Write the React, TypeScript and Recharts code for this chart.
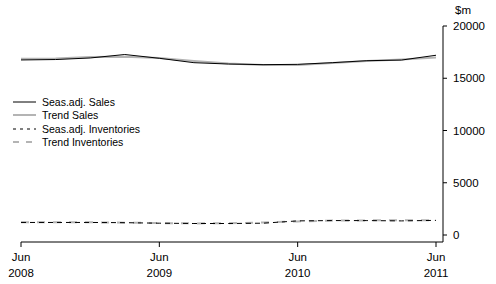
import { LineChart, Line, XAxis, YAxis } from "recharts";

/* ── Data (quarterly, Jun 2008 – Jun 2011) ───────────────── */

const quarters = [
  "Jun 2008", "Sep 2008", "Dec 2008", "Mar 2009", "Jun 2009", "Sep 2009", "Dec 2009",
  "Mar 2010", "Jun 2010", "Sep 2010", "Dec 2010", "Mar 2011", "Jun 2011",
];
const seasAdjSales = [16750, 16790, 16940, 17270, 16910, 16490, 16360, 16300, 16330, 16490, 16680, 16740, 17200];
const trendSales = [16870, 16890, 17030, 17060, 16940, 16650, 16410, 16270, 16270, 16460, 16650, 16790, 16980];
const seasAdjInventories = [1200, 1200, 1200, 1180, 1130, 1100, 1100, 1130, 1350, 1380, 1380, 1350, 1400];
const trendInventories = [1230, 1230, 1220, 1180, 1140, 1110, 1120, 1200, 1300, 1380, 1400, 1400, 1400];

const xTicks = [0, 4, 8, 12];
const yTicks = [0, 5000, 10000, 15000, 20000];

const FONT = "Arial, 'Liberation Sans', sans-serif";

const data = quarters.map((q, i) => ({
  i,
  label: q,
  sa: seasAdjSales[i],
  ts: trendSales[i],
  si: seasAdjInventories[i],
  ti: trendInventories[i],
}));

/* ── Legend ───────────────────────────────────────────────── */

const legendItems = [
  { name: "Seas.adj. Sales", color: "#000", width: 1, dash: undefined },
  { name: "Trend Sales", color: "#b4b4b4", width: 2, dash: undefined },
  { name: "Seas.adj. Inventories", color: "#000", width: 1, dash: "3 4" },
  { name: "Trend Inventories", color: "#b4b4b4", width: 2, dash: "6 7" },
];

function ChartLegend() {
  return (
    <div style={{ position: "absolute", left: 13, top: 95, fontFamily: FONT, fontSize: 10.5, color: "#000" }}>
      {legendItems.map((it) => (
        <div key={it.name} style={{ display: "flex", alignItems: "center", height: 13.5 }}>
          <svg width={23} height={6} style={{ marginRight: 6 }}>
            <line x1={0} x2={23} y1={3} y2={3} stroke={it.color} strokeWidth={it.width} strokeDasharray={it.dash} />
          </svg>
          <span>{it.name}</span>
        </div>
      ))}
    </div>
  );
}

/* ── Ticks ────────────────────────────────────────────────── */

function XTick({ x, y, payload }: any) {
  const [m, yr] = quarters[payload.value].split(" ");
  return (
    <g transform={`translate(${x},${y})`}>
      <text textAnchor="middle" fontFamily={FONT} fontSize={11.5} fill="#000">
        <tspan x={0} dy={12}>{m}</tspan>
        <tspan x={0} dy={16}>{yr}</tspan>
      </text>
    </g>
  );
}

function YTick({ x, y, payload }: any) {
  return (
    <text x={x + 4} y={y + 4} textAnchor="start" fontFamily={FONT} fontSize={11.5} fill="#000">
      {payload.value}
    </text>
  );
}

export default function App() {
  return (
    <div style={{ position: "fixed", left: 0, top: 0, width: 496, height: 284, background: "#fff" }}>
      <LineChart width={496} height={284} data={data} margin={{ top: 26, right: 0, bottom: 0, left: 21 }}>
        <XAxis
          dataKey="i"
          type="number"
          domain={[0, 12]}
          ticks={xTicks}
          padding={{ left: 0, right: 7 }}
          height={42}
          axisLine={{ stroke: "#000" }}
          tickLine={{ stroke: "#000" }}
          tickSize={5}
          tick={<XTick />}
          interval={0}
        />
        <YAxis
          orientation="right"
          domain={[0, 20000]}
          ticks={yTicks}
          width={53}
          padding={{ top: 0, bottom: 7 }}
          axisLine={{ stroke: "#000" }}
          tickLine={{ stroke: "#000" }}
          tickSize={4}
          tick={<YTick />}
          interval={0}
        />
        <Line dataKey="ts" stroke="#b4b4b4" strokeWidth={2} dot={false} isAnimationActive={false} type="linear" />
        <Line dataKey="sa" stroke="#000" strokeWidth={1} dot={false} isAnimationActive={false} type="linear" />
        <Line dataKey="ti" stroke="#b4b4b4" strokeWidth={2} strokeDasharray="8 8" dot={false} isAnimationActive={false} type="linear" />
        <Line dataKey="si" stroke="#000" strokeWidth={1} strokeDasharray="5 4" dot={false} isAnimationActive={false} type="linear" />
      </LineChart>
      <div style={{ position: "absolute", left: 455, top: 4, fontFamily: FONT, fontSize: 11.5, color: "#000" }}>$m</div>
      <ChartLegend />
    </div>
  );
}
